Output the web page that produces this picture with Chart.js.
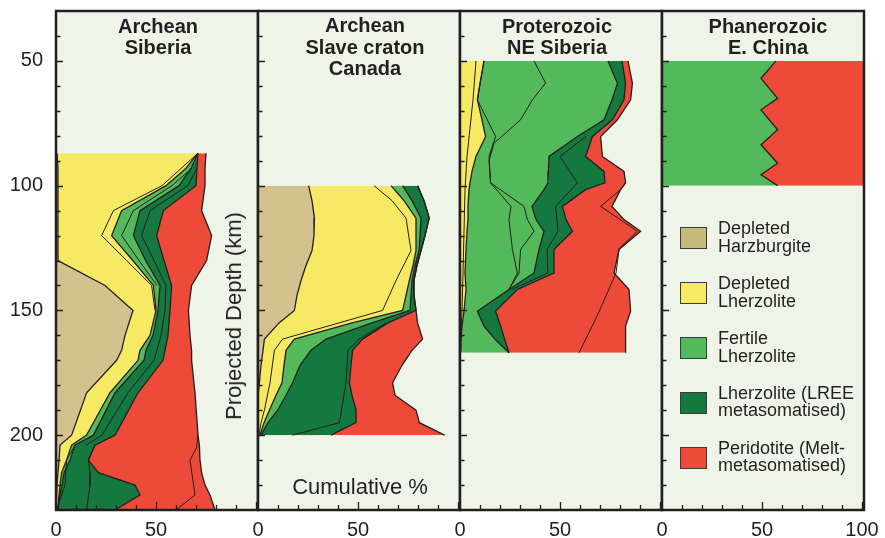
<!DOCTYPE html>
<html>
<head>
<meta charset="utf-8">
<script src="https://cdn.jsdelivr.net/npm/chart.js@4.4.1/dist/chart.umd.min.js"></script>
<style>
  html, body { margin: 0; padding: 0; background: #fff; }
  #wrap { position: relative; width: 885px; height: 538px; overflow: hidden;
    font-family: "Liberation Sans", Arial, Helvetica, sans-serif; color: #231f20; }
  #wrap canvas { position: absolute; left: 0; top: 0; }
  .title { position: absolute; transform: translateX(-50%); text-align: center; white-space: nowrap;
    font-weight: bold; font-size: 20px; line-height: 21px; }
  .axis-label { position: absolute; white-space: nowrap; font-size: 22px; line-height: 1; }
  .leg-box { position: absolute; width: 25px; height: 20px; border: 1px solid #3a3a3a; }
  .leg-text { position: absolute; font-size: 18px; line-height: 17.7px; white-space: nowrap; }
</style>
</head>
<body>
<div id="wrap">
  <canvas id="c1" width="885" height="538"></canvas>
  <canvas id="c2" width="885" height="538"></canvas>
  <canvas id="c3" width="885" height="538"></canvas>
  <canvas id="c4" width="885" height="538"></canvas>

  <div class="title" style="left:158px; top:16px;">Archean<br>Siberia</div>
  <div class="title" style="left:365px; top:15px; line-height:21.7px;">Archean<br>Slave craton<br>Canada</div>
  <div class="title" style="left:557px; top:16px;">Proterozoic<br>NE Siberia</div>
  <div class="title" style="left:768px; top:16px;">Phanerozoic<br>E. China</div>

  <div class="axis-label" style="left:234px; top:316px; transform:translate(-50%,-50%) rotate(-90deg);">Projected Depth (km)</div>
  <div class="axis-label" style="left:360px; top:476px; transform:translateX(-50%);">Cumulative %</div>

  <div id="legend"></div>
</div>

<script>
// ---- Archean Siberia: depth (km) and cumulative % at the right edge of each rock type
const SIB_DEPTH = [87, 93, 100, 110, 120, 130, 140, 150, 160, 166, 170, 183, 200, 204, 210, 215, 220, 224, 230]
const SIB_HARZ  = [0.5, 1, 1, 1, 1, 1, 24.5, 38.5, 34.5, 32.8, 30.3, 15.3, 7.8, 2, 1.5, 1, 0.5, 0.3, 0]
const SIB_DEPL  = [71, 65, 55, 32.8, 27.8, 38.4, 48.7, 50, 47, 42, 41, 27, 15.3, 7.8, 5.3, 2.8, 2, 1.5, 0.8]
const SIB_FERT  = [71, 67.5, 61.5, 42, 38.7, 44.8, 52, 51, 48.5, 45, 44, 29.5, 18.7, 9.5, 7, 4, 3, 2, 1]
const SIB_LREE  = [71, 70.5, 70, 53.7, 50.3, 54, 57.8, 57, 56, 54.5, 53.5, 41, 29.5, 19.5, 16.2, 21.2, 39.5, 42, 29.5]
const SIB_MELT  = [75, 74.5, 74.5, 72.8, 77.8, 75.3, 67.8, 66.2, 67, 67.8, 67.8, 69.5, 71, 71.7, 72, 72.8, 74.5, 77, 79.5]
// thin lines inside the layers
const SIB_LINE_A_DEPTH = [87, 100, 110, 120, 130, 140, 150]
const SIB_LINE_A = [71, 53, 28.7, 22.8, 35.3, 47.8, 49.5]
const SIB_LINE_B_DEPTH = [93, 100, 110, 120, 130, 140]
const SIB_LINE_B = [68, 58, 38.7, 32.8, 41.5, 50.5]
const SIB_LINE_C_DEPTH = [93, 100, 110, 120, 130, 140, 150, 160, 170, 183, 200, 204]
const SIB_LINE_C = [70.5, 66, 47, 42.8, 49, 55, 54.5, 52.5, 49, 36, 23, 15]
const SIB_LINE_D_DEPTH = [204, 210, 220, 230]
const SIB_LINE_D = [9.5, 5.3, 4.5, 0.3]
const SIB_LINE_E_DEPTH = [204, 210, 215, 220, 230]
const SIB_LINE_E = [19.5, 16.2, 17, 17, 15.3]
const SIB_LINE_F_DEPTH = [200, 205, 210, 224, 230]
const SIB_LINE_F = [71, 70.3, 67, 69.5, 60]

// ---- Archean Slave craton, Canada
const SLV_DEPTH = [100, 106, 113, 120, 126, 132, 138, 144, 150, 155, 161.5, 166, 172, 179, 184, 190, 195, 200]
const SLV_HARZ  = [25.3, 27, 28.2, 28, 27, 24, 21.5, 19.5, 18.2, 10.5, 3.2, 2.5, 1.5, 0.7, 0, 0, 0, 0]
const SLV_DEPL  = [66.5, 73, 79, 79, 79, 77.5, 75.7, 74, 72.3, 47, 18.2, 14, 13, 12, 9, 5.7, 3, 1]
const SLV_FERT  = [72.3, 77, 81.5, 81, 80.5, 78.5, 77, 76.5, 76, 57, 34, 26.5, 21, 17.3, 14, 9.8, 5, 1.5]
const SLV_LREE  = [79.8, 83, 85.6, 83.5, 81.5, 79.5, 78, 78, 79, 65, 52.3, 47.3, 46.5, 45.7, 47, 49, 49, 36.5]
const SLV_MELT  = [79.8, 83, 85.6, 83.5, 81.5, 79.5, 78, 78, 79, 79.8, 82.3, 77, 72, 67.3, 68.5, 79, 80.7, 93.3]
const SLV_LINE_A_DEPTH = [100, 106, 113, 126, 138, 150, 161.5, 166, 179, 190, 195, 200]
const SLV_LINE_A = [58, 67, 74, 76.5, 69, 62.3, 12.3, 8.2, 6, 3.2, 1.5, 0.5]
const SLV_LINE_B_DEPTH = [155, 161.5, 166, 179, 195, 200]
const SLV_LINE_B = [64, 50.5, 45, 44, 40.7, 17.3]

// ---- Proterozoic NE Siberia
const NES_DEPTH = [50, 59, 65.6, 73.6, 80.3, 88.3, 94.3, 98.9, 101.6, 108.3, 113.6, 118.3, 125.6, 135, 141.6, 150.3, 156.3, 162, 167]
const NES_DEPL  = [12, 10, 8.7, 11, 12.8, 8, 6, 5, 4.5, 4, 4, 3.5, 3, 2.5, 3, 2, 1, 0.5, 0.3]
const NES_FERT  = [74, 78.7, 76, 72, 58.7, 44.5, 44.2, 44, 42, 36, 38, 42, 39.5, 37, 24.5, 8.7, 12, 18, 24.5]
const NES_LREE  = [81, 82.8, 82, 76.2, 66.2, 62.8, 72, 72.5, 62.8, 51.2, 53, 56.2, 47, 47, 28.7, 17.8, 20.3, 22.5, 24.5]
const NES_MELT  = [84, 86.2, 85.3, 78.7, 70.3, 71.2, 82, 82.8, 80.3, 76, 82, 90.3, 79.5, 77, 84.5, 85.3, 82.8, 82.8, 82.8]
const NES_LINE_A_DEPTH = [50, 58.9, 65.6, 73.6, 83, 90, 98.9, 108.3, 113.6, 118.3, 125.6, 135, 141.6]
const NES_LINE_A = [37, 42.8, 36.2, 30.3, 17, 14.5, 15.3, 32, 33.7, 37, 30.3, 29.5, 24.5]
const NES_LINE_B_DEPTH = [50, 65.6, 80.3, 88.3, 98.9, 108.3, 113.6, 125.6, 135, 141.6]
const NES_LINE_B = [12, 8.7, 17.8, 14.5, 15.3, 25.5, 24.5, 26.2, 28.7, 24.5]
const NES_LINE_C_DEPTH = [80.3, 88.3, 98.9, 108.3, 118.3, 125.6, 135, 141.6]
const NES_LINE_C = [63, 50, 58.7, 47.8, 49, 43.5, 44, 26]
const NES_LINE_D_DEPTH = [98.9, 101.6, 108.3, 118.3, 125.6]
const NES_LINE_D = [82.8, 80.3, 70.3, 88.7, 79]
const NES_LINE_E_DEPTH = [125.6, 135, 152, 167]
const NES_LINE_E = [79.5, 78, 68.7, 59.5]
const NES_LINE_F_DEPTH = [50, 65.6, 88.3, 101.6, 118.3, 135, 150.3, 162]
const NES_LINE_F = [8, 6.5, 3.5, 2.5, 2, 1.5, 1, 0.3]

// ---- Phanerozoic E. China
const ECH_DEPTH = [50, 57, 65, 69.6, 77.6, 83.6, 91, 95.6, 100]
const ECH_FERT  = [57, 49.5, 57.8, 49.5, 57.8, 49.5, 57.8, 49.5, 57.8]
const ECH_MELT  = [101, 101, 101, 101, 101, 101, 101, 101, 101]

// axes
const DEPTH_MIN = 30
const DEPTH_MAX = 230
const DEPTH_LABELS = [50, 100, 150, 200]
const PCT_LABELS = [0, 50, 100]

const BG = '#eef5e8'
const INK = '#231f20'
const COLORS = {
  harz: '#d3c28d',
  depl: '#f6e963',
  fert: '#53b95b',
  lree: '#14783f',
  melt: '#ee4a3a',
}
const LEGEND = [
  ['#c4bb7c', 'Depleted', 'Harzburgite'],
  [COLORS.depl, 'Depleted', 'Lherzolite'],
  [COLORS.fert, 'Fertile', 'Lherzolite'],
  [COLORS.lree, 'Lherzolite (LREE', 'metasomatised)'],
  [COLORS.melt, 'Peridotite (Melt-', 'metasomatised)'],
]

const PANEL_W = 202
const AXIS_W = 56
const panels = [
  {id: 'c1', left: 56, depth: SIB_DEPTH, yLabels: true, hundred: false,
    layers: [['harz', SIB_HARZ], ['depl', SIB_DEPL], ['fert', SIB_FERT], ['lree', SIB_LREE], ['melt', SIB_MELT]],
    lines: [[SIB_LINE_A_DEPTH, SIB_LINE_A], [SIB_LINE_B_DEPTH, SIB_LINE_B], [SIB_LINE_C_DEPTH, SIB_LINE_C],
      [SIB_LINE_D_DEPTH, SIB_LINE_D], [SIB_LINE_E_DEPTH, SIB_LINE_E], [SIB_LINE_F_DEPTH, SIB_LINE_F]]},
  {id: 'c2', left: 258, depth: SLV_DEPTH, yLabels: false, hundred: false,
    layers: [['harz', SLV_HARZ], ['depl', SLV_DEPL], ['fert', SLV_FERT], ['lree', SLV_LREE], ['melt', SLV_MELT]],
    lines: [[SLV_LINE_A_DEPTH, SLV_LINE_A], [SLV_LINE_B_DEPTH, SLV_LINE_B]]},
  {id: 'c3', left: 460, depth: NES_DEPTH, yLabels: false, hundred: false,
    layers: [['depl', NES_DEPL], ['fert', NES_FERT], ['lree', NES_LREE], ['melt', NES_MELT]],
    lines: [[NES_LINE_A_DEPTH, NES_LINE_A], [NES_LINE_B_DEPTH, NES_LINE_B], [NES_LINE_C_DEPTH, NES_LINE_C],
      [NES_LINE_D_DEPTH, NES_LINE_D], [NES_LINE_E_DEPTH, NES_LINE_E], [NES_LINE_F_DEPTH, NES_LINE_F]]},
  {id: 'c4', left: 662, depth: ECH_DEPTH, yLabels: false, hundred: true,
    layers: [['fert', ECH_FERT], ['melt', ECH_MELT]],
    lines: []},
]

// turns a depth list and a % list into {x, y} points
function toPoints(depths, values) {
  return depths.map((d, i) => ({x: values[i], y: d}))
}

// no extra room for label overhang, the panels must line up exactly
function noPadding(s) {
  s.paddingTop = 0
  s.paddingBottom = 0
  s.paddingLeft = 0
  s.paddingRight = 0
}

// background of the panel, inner ticks and the black frame
const panelFrame = {
  id: 'panelFrame',
  beforeDraw(chart) {
    const {ctx, chartArea: a} = chart
    ctx.save()
    ctx.fillStyle = BG
    ctx.fillRect(a.left, a.top, a.width, a.height)
    ctx.restore()
  },
  afterDraw(chart) {
    const {ctx, chartArea: a, scales} = chart
    ctx.save()
    ctx.strokeStyle = INK
    ctx.lineWidth = 1.3
    ctx.beginPath()
    for (let v = DEPTH_MIN + 10; v < DEPTH_MAX; v += 10) {
      const py = Math.round(scales.y.getPixelForValue(v)) + 0.5
      const len = v % 50 === 0 ? 7 : 4.5
      ctx.moveTo(a.left, py)
      ctx.lineTo(a.left + len, py)
    }
    for (let v = 10; v <= 100; v += 10) {
      const px = Math.round(scales.x.getPixelForValue(v)) + 0.5
      const len = v % 50 === 0 ? 8 : 5
      ctx.moveTo(px, a.bottom)
      ctx.lineTo(px, a.bottom - len)
    }
    ctx.stroke()
    ctx.lineWidth = 2.5
    ctx.strokeRect(a.left, a.top, a.width, a.height)
    ctx.restore()
  },
}

Chart.defaults.font.family = '"Liberation Sans", Arial, Helvetica, sans-serif'
Chart.defaults.color = INK

panels.forEach(p => {
  // dataset 0 is the 0 % edge, each layer fills back to the one before it
  const datasets = [{
    data: toPoints(p.depth, p.depth.map(() => 0)),
    borderColor: 'transparent',
    fill: false,
  }]
  p.layers.forEach(([key, values]) => {
    datasets.push({
      data: toPoints(p.depth, values),
      backgroundColor: COLORS[key],
      borderColor: INK,
      borderWidth: 1.3,
      fill: '-1',
    })
  })
  p.lines.forEach(([depths, values]) => {
    datasets.push({
      data: toPoints(depths, values),
      borderColor: INK,
      borderWidth: 1,
      fill: false,
    })
  })

  // the first panel keeps room on its left for the depth labels
  const axisW = p.yLabels ? AXIS_W : 0

  new Chart(document.getElementById(p.id), {
    type: 'line',
    data: {datasets},
    options: {
      indexAxis: 'y',
      responsive: false,
      animation: false,
      devicePixelRatio: 1,
      events: [],
      elements: {point: {radius: 0}, line: {tension: 0}},
      layout: {padding: {left: p.left - axisW, right: 885 - p.left - PANEL_W, top: 11, bottom: 0}},
      plugins: {
        legend: {display: false},
        tooltip: {enabled: false},
        filler: {drawTime: 'beforeDatasetsDraw'},
      },
      scales: {
        x: {
          type: 'linear',
          min: 0,
          max: 101,
          grid: {display: false},
          border: {display: false},
          ticks: {
            stepSize: 10,
            includeBounds: false,
            autoSkip: false,
            maxRotation: 0,
            padding: 0,
            font: {size: 20},
            callback: v => PCT_LABELS.includes(v) && (v < 100 || p.hundred) ? String(v) : '',
          },
          afterFit: s => { s.height = 28; noPadding(s) },
        },
        y: {
          type: 'linear',
          reverse: true,
          min: DEPTH_MIN,
          max: DEPTH_MAX,
          grid: {display: false},
          border: {display: false},
          ticks: {
            display: p.yLabels,
            stepSize: 10,
            autoSkip: false,
            padding: 5,
            font: {size: 20},
            callback: v => DEPTH_LABELS.includes(v) ? String(v) : '',
          },
          afterFit: s => { s.width = axisW; noPadding(s) },
        },
      },
    },
    plugins: [panelFrame],
  })
})

// legend in the last panel
const legend = document.getElementById('legend')
LEGEND.forEach(([color, line1, line2], i) => {
  const top = 227 + i * 54.9
  const box = document.createElement('div')
  box.className = 'leg-box'
  box.style.left = '680px'
  box.style.top = top + 'px'
  box.style.background = color
  legend.appendChild(box)
  const text = document.createElement('div')
  text.className = 'leg-text'
  text.style.left = '718px'
  text.style.top = (top - 7) + 'px'
  text.innerHTML = line1 + '<br>' + line2
  legend.appendChild(text)
})
</script>
</body>
</html>
